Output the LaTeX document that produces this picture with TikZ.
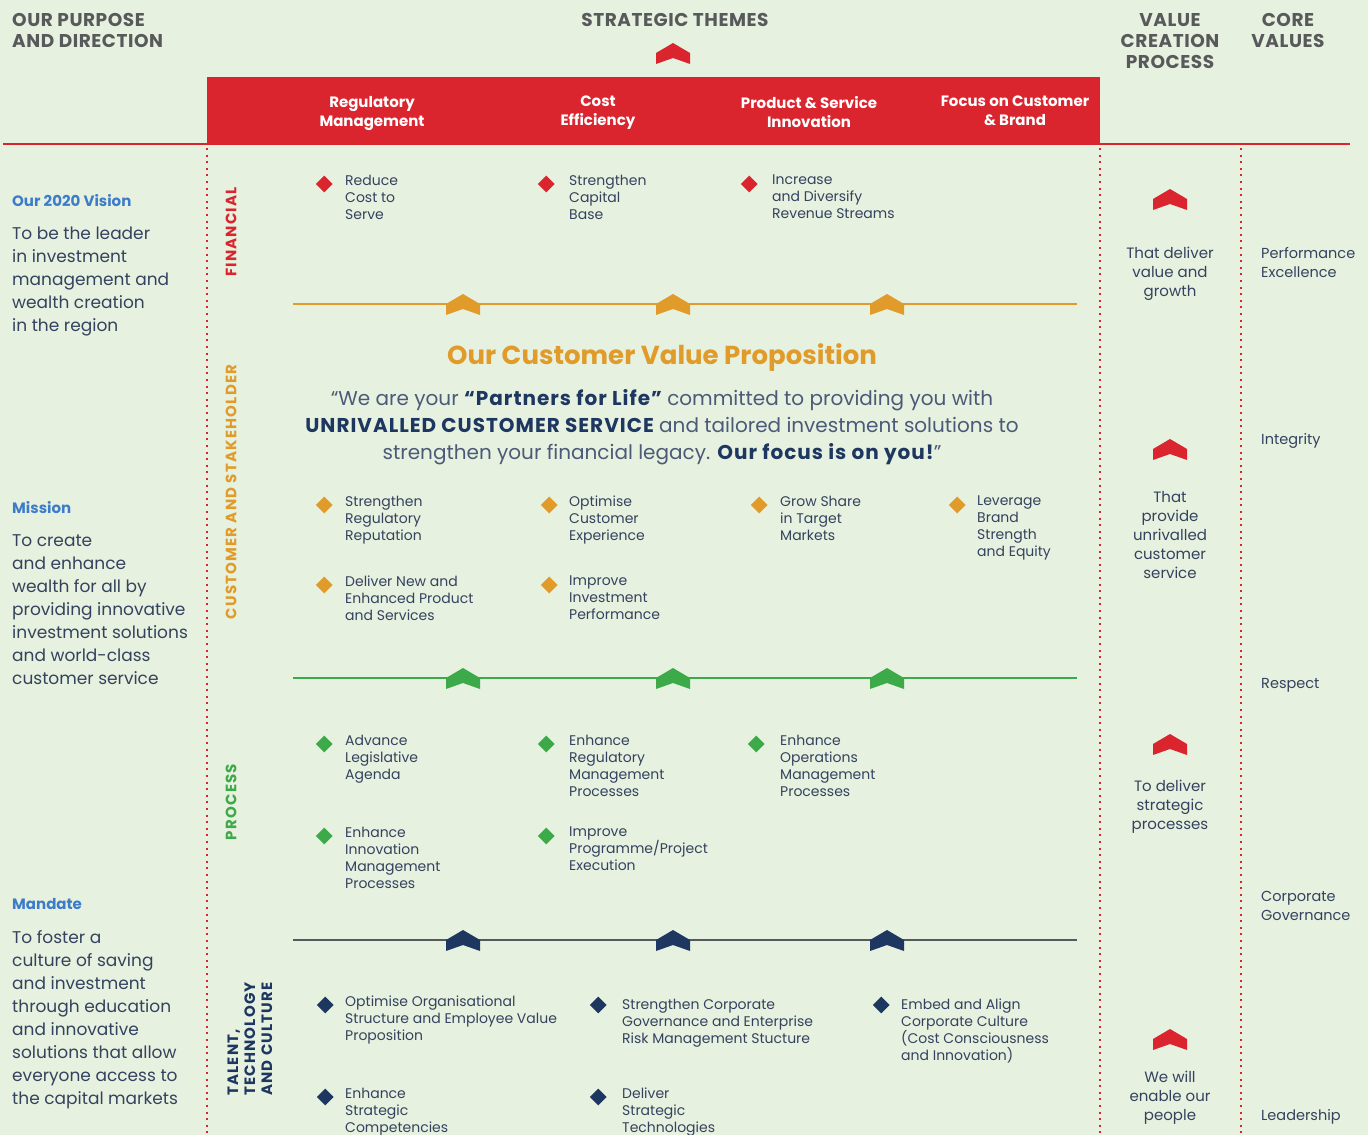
\documentclass[tikz,border=0pt]{standalone}
\usepackage{fontspec}
\setmainfont{Poppins}
\usetikzlibrary{shapes.geometric, positioning}
\definecolor{bggreen}{HTML}{E7F1DF}
\definecolor{themered}{HTML}{DA252F}
\definecolor{custgold}{HTML}{E09B2A}
\definecolor{procgreen}{HTML}{3DAA4A}
\definecolor{talnavy}{HTML}{1E3761}
\definecolor{headgray}{HTML}{58595B}
\definecolor{labelblue}{HTML}{3D7CC9}
\definecolor{bodytext}{HTML}{34425F}
\definecolor{quotetext}{HTML}{4A5A78}
\definecolor{linegray}{HTML}{55585C}
\newcommand{\widebold}[1]{\bfseries\addfontfeature{LetterSpace=#1}}
\tikzstyle{tophead} = [font=\fontsize{18.5}{21}\selectfont\widebold{3}, text=headgray, inner sep=0pt, align=center]
\tikzstyle{themehead} = [font=\bfseries\fontsize{15}{19}\selectfont, text=white, inner sep=0pt, align=center, anchor=north, execute at begin node={\rule{0pt}{15pt}}]
\tikzstyle{lefthd} = [font=\bfseries\fontsize{15}{17}\selectfont, text=labelblue, inner sep=0pt, anchor=west]
\tikzstyle{leftbody} = [font=\fontsize{17}{23}\selectfont, text=bodytext, inner sep=0pt, align=left]
\tikzstyle{vlabel} = [font=\fontsize{15}{17}\selectfont\widebold{8}, inner sep=0pt, rotate=90, align=left]
\tikzstyle{item} = [font=\fontsize{14}{17}\selectfont, text=bodytext, inner sep=0pt, align=left, anchor=north west]
\tikzstyle{vctext} = [font=\fontsize{15}{19}\selectfont, text=bodytext, inner sep=0pt, align=center, anchor=north]
\tikzstyle{coretext} = [font=\fontsize{14.5}{19}\selectfont, text=bodytext, inner sep=0pt, align=left, anchor=north west]
\tikzstyle{fdia} = [diamond, fill=themered, inner sep=0pt, minimum size=17pt]
\tikzstyle{cdia} = [diamond, fill=custgold, inner sep=0pt, minimum size=17pt]
\tikzstyle{pdia} = [diamond, fill=procgreen, inner sep=0pt, minimum size=17pt]
\tikzstyle{tdia} = [diamond, fill=talnavy, inner sep=0pt, minimum size=17pt]
\tikzstyle{dotline} = [themered, line width=2pt, dash pattern=on 2pt off 4.6pt]
\newcommand{\themechevron}[3]{\fill[#1] (#2,#3) ++(-17,0) -- ++(17,-10) -- ++(17,10) -- ++(0,11) -- ++(-17,-6) -- ++(-17,6) -- cycle;}
\newcommand{\quotebold}[1]{{\bfseries\addfontfeature{LetterSpace=5}\color{talnavy}#1}}

\begin{document}
\begin{tikzpicture}[x=1pt, y=-1pt, node distance=10pt]
	\fill[bggreen] (0,0) rectangle (1368,1135);
	\useasboundingbox (0,0) rectangle (1368,1135);

	\node (purpose) [tophead, anchor=north west, align=left] at (12,13) {OUR PURPOSE\\AND DIRECTION};
	\node (themes) [tophead] at (675,20) {STRATEGIC THEMES};
	\node (vcp) [tophead, anchor=north] at (1170,13) {VALUE\\CREATION\\PROCESS};
	\node (core) [tophead, anchor=north] at (1288,13) {CORE\\VALUES};
	\themechevron{themered}{673}{53}

	\fill[themered] (207,77) rectangle (1100,144);
	\node (regmgmt) [themehead] at (372,96) {Regulatory\\Management};
	\node (costeff) [themehead] at (598,96) {Cost\\Efficiency};
	\node (prodinn) [themehead] at (809,96) {Product \& Service\\Innovation};
	\node (focus) [themehead] at (1015,96) {Focus on Customer\\\& Brand};

	\coordinate (rl) at (3,144);
	\coordinate (rr) at (1350,144);
	\draw [themered, line width=1.4pt] (rl) -- (rr);
	\draw [dotline] (207,148) -- (207,1135);
	\draw [dotline] (1100,148) -- (1100,1135);
	\draw [dotline] (1241,148) -- (1241,1135);

	\node (visionhd) [lefthd] at (12,201) {Our 2020 Vision};
	\node (vision) [leftbody, below=19pt of visionhd.south west, anchor=north west] {To be the leader\\in investment\\management and\\wealth creation\\in the region};
	\node (missionhd) [lefthd] at (12,508) {Mission};
	\node (mission) [leftbody, below=20pt of missionhd.south west, anchor=north west] {To create\\and enhance\\wealth for all by\\providing innovative\\investment solutions\\and world-class\\customer service};
	\node (mandatehd) [lefthd] at (12,904) {Mandate};
	\node (mandate) [leftbody, below=20pt of mandatehd.south west, anchor=north west] {To foster a\\culture of saving\\and investment\\through education\\and innovative\\solutions that allow\\everyone access to\\the capital markets};

	\node (finlbl) [vlabel, text=themered] at (231,232) {FINANCIAL};
	\node (custlbl) [vlabel, text=custgold] at (231,492) {CUSTOMER AND STAKEHOLDER};
	\node (proclbl) [vlabel, text=procgreen] at (231,802) {PROCESS};
	\node (tallbl) [vlabel, text=talnavy] at (250,1039) {TALENT,\\TECHNOLOGY\\AND CULTURE};

	\node (f1) [item] at (345,175) {Reduce\\Cost to\\Serve};
	\node (f1d) [fdia, left=12pt of f1.north west, yshift=-9pt] {};
	\node (f2) [item] at (569,175) {Strengthen\\Capital\\Base};
	\node (f2d) [fdia, left=14pt of f2.north west, yshift=-9pt] {};
	\node (f3) [item] at (772,175) {Increase\\and Diversify\\Revenue Streams};
	\node (f3d) [fdia, left=14pt of f3.north west, yshift=-9pt] {};

	\coordinate (gl) at (293,304);
	\coordinate (gr) at (1077,304);
	\draw [custgold, line width=2.5pt] (gl) -- (gr);
	\themechevron{custgold}{463}{304}
	\themechevron{custgold}{673}{304}
	\themechevron{custgold}{887}{304}

	\node (cvptitle) [font=\bfseries\fontsize{26}{32}\selectfont, text=custgold, inner sep=0pt] at (662,358) {Our Customer Value Proposition};
	\node (cvpquote) [font=\fontsize{20}{27}\selectfont, text=quotetext, inner sep=0pt, align=center, below=17pt of cvptitle] {``We are your \quotebold{``Partners for Life''} committed to providing you with\\\quotebold{UNRIVALLED CUSTOMER SERVICE} and tailored investment solutions to\\strengthen your financial legacy. \quotebold{Our focus is on you!}''};

	\node (c1) [item] at (345,496) {Strengthen\\Regulatory\\Reputation};
	\node (c1d) [cdia, left=12pt of c1.north west, yshift=-9pt] {};
	\node (c2) [item] at (569,496) {Optimise\\Customer\\Experience};
	\node (c2d) [cdia, left=11pt of c2.north west, yshift=-9pt] {};
	\node (c3) [item] at (780,496) {Grow Share\\in Target\\Markets};
	\node (c3d) [cdia, left=12pt of c3.north west, yshift=-9pt] {};
	\node (c4) [item] at (977,496) {Leverage\\Brand\\Strength\\and Equity};
	\node (c4d) [cdia, left=11pt of c4.north west, yshift=-9pt] {};
	\node (c5) [item] at (345,576) {Deliver New and\\Enhanced Product\\and Services};
	\node (c5d) [cdia, left=12pt of c5.north west, yshift=-9pt] {};
	\node (c6) [item] at (569,576) {Improve\\Investment\\Performance};
	\node (c6d) [cdia, left=11pt of c6.north west, yshift=-9pt] {};

	\coordinate (pl) at (293,678);
	\coordinate (pr) at (1077,678);
	\draw [procgreen, line width=2.5pt] (pl) -- (pr);
	\themechevron{procgreen}{463}{678}
	\themechevron{procgreen}{673}{678}
	\themechevron{procgreen}{887}{678}

	\node (p1) [item] at (345,735) {Advance\\Legislative\\Agenda};
	\node (p1d) [pdia, left=12pt of p1.north west, yshift=-9pt] {};
	\node (p2) [item] at (569,735) {Enhance\\Regulatory\\Management\\Processes};
	\node (p2d) [pdia, left=14pt of p2.north west, yshift=-9pt] {};
	\node (p3) [item] at (780,735) {Enhance\\Operations\\Management\\Processes};
	\node (p3d) [pdia, left=15pt of p3.north west, yshift=-9pt] {};
	\node (p4) [item] at (345,827) {Enhance\\Innovation\\Management\\Processes};
	\node (p4d) [pdia, left=12pt of p4.north west, yshift=-9pt] {};
	\node (p5) [item] at (569,827) {Improve\\Programme/Project\\Execution};
	\node (p5d) [pdia, left=14pt of p5.north west, yshift=-9pt] {};

	\coordinate (tl) at (293,940);
	\coordinate (tr) at (1077,940);
	\draw [linegray, line width=2.5pt] (tl) -- (tr);
	\themechevron{talnavy}{463}{940}
	\themechevron{talnavy}{673}{940}
	\themechevron{talnavy}{887}{940}

	\node (t1) [item] at (345,996) {Optimise Organisational\\Structure and Employee Value\\Proposition};
	\node (t1d) [tdia, left=11pt of t1.north west, yshift=-9pt] {};
	\node (t2) [item] at (622,999) {Strengthen Corporate\\Governance and Enterprise\\Risk Management Stucture};
	\node (t2d) [tdia, left=15pt of t2.north west, yshift=-6pt] {};
	\node (t3) [item] at (901,999) {Embed and Align\\Corporate Culture\\(Cost Consciousness\\and Innovation)};
	\node (t3d) [tdia, left=11pt of t3.north west, yshift=-6pt] {};
	\node (t4) [item] at (345,1088) {Enhance\\Strategic\\Competencies};
	\node (t4d) [tdia, left=11pt of t4.north west, yshift=-9pt] {};
	\node (t5) [item] at (622,1088) {Deliver\\Strategic\\Technologies};
	\node (t5d) [tdia, left=15pt of t5.north west, yshift=-9pt] {};

	\themechevron{themered}{1170}{199}
	\node (vc1) [vctext] at (1170,247) {That deliver\\value and\\growth};
	\themechevron{themered}{1170}{449}
	\node (vc2) [vctext] at (1170,491) {That\\provide\\unrivalled\\customer\\service};
	\themechevron{themered}{1170}{744}
	\node (vc3) [vctext] at (1170,780) {To deliver\\strategic\\processes};
	\themechevron{themered}{1170}{1039}
	\node (vc4) [vctext] at (1170,1071) {We will\\enable our\\people};

	\node (perf) [coretext] at (1261,247) {Performance\\Excellence};
	\node (integ) [coretext] at (1261,433) {Integrity};
	\node (resp) [coretext] at (1261,678) {Respect};
	\node (corpgov) [coretext] at (1261,891) {Corporate\\Governance};
	\node (lead) [coretext] at (1261,1109) {Leadership};
\end{tikzpicture}
\end{document}
